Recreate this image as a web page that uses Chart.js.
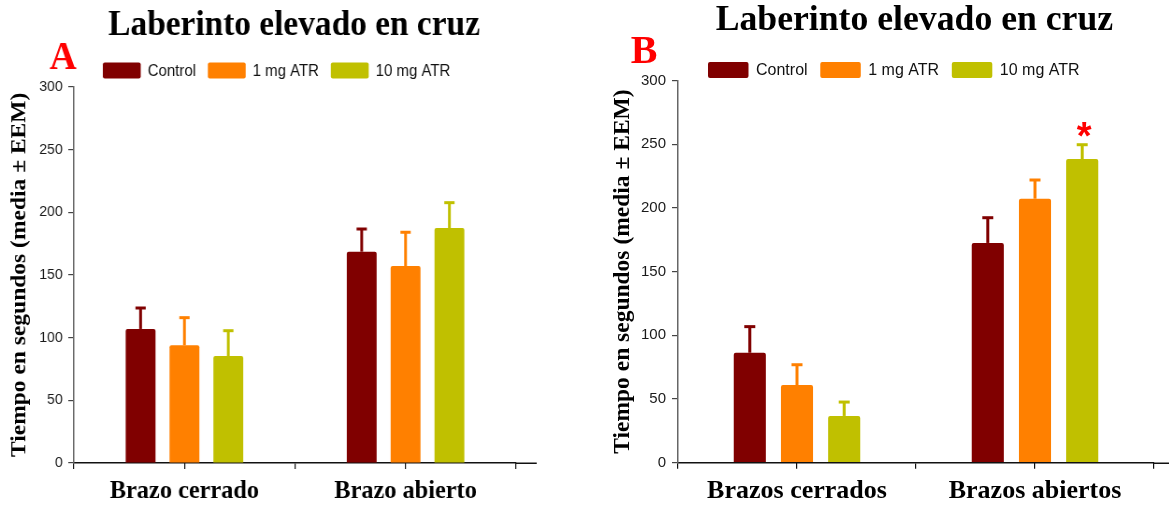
<!DOCTYPE html>
<html><head><meta charset="utf-8">
<script src="https://cdn.jsdelivr.net/npm/chart.js@4"></script>
<style>
html,body{margin:0;padding:0;background:#fff;width:1169px;height:505px;overflow:hidden}
#wrapA{position:absolute;left:0;top:0;width:641px;height:505px;transform:scaleX(0.935);transform-origin:0 0}
#wrapB{position:absolute;left:600px;top:0;width:569px;height:505px}
canvas{display:block}
</style></head><body>
<div id="wrapA"><canvas id="cA" width="641" height="505"></canvas></div>
<div id="wrapB"><canvas id="cB" width="569" height="505"></canvas></div>
<script>
// ---- data ----
const seriesNames = ['Control', '1 mg ATR', '10 mg ATR'];
const seriesColors = ['#800000', '#FF8000', '#C0C000'];
const chartTitle = 'Laberinto elevado en cruz';
const yTitle = 'Tiempo en segundos (media ± EEM)';
const yTicks = [0, 50, 100, 150, 200, 250, 300];

const categoriesA = ['Brazo cerrado', 'Brazo abierto'];
const controlA = [106.9, 168.5];
const atr1A = [93.8, 157.1];
const atr10A = [85.3, 187.4];
const controlSemA = [16.7, 18.1];
const atr1SemA = [22.1, 26.9];
const atr10SemA = [20.2, 20.2];

const categoriesB = ['Brazos cerrados', 'Brazos abiertos'];
const controlB = [86.3, 172.5];
const atr1B = [61.0, 207.2];
const atr10B = [36.7, 238.4];
const controlSemB = [20.5, 19.8];
const atr1SemB = [15.9, 14.7];
const atr10SemB = [10.9, 11.2];
const atr10MarksB = ['', '*'];

// ---- helpers ----
const SERIF = "'Liberation Serif','Times New Roman',serif";
const SANS = "'Liberation Sans',Arial,sans-serif";

function rrect(ctx, x, y, w, h, r) {
  ctx.beginPath();
  ctx.moveTo(x + r, y); ctx.lineTo(x + w - r, y); ctx.quadraticCurveTo(x + w, y, x + w, y + r);
  ctx.lineTo(x + w, y + h - r); ctx.quadraticCurveTo(x + w, y + h, x + w - r, y + h);
  ctx.lineTo(x + r, y + h); ctx.quadraticCurveTo(x, y + h, x, y + h - r);
  ctx.lineTo(x, y + r); ctx.quadraticCurveTo(x, y, x + r, y); ctx.closePath();
}

const errorBars = {
  id: 'errorBars',
  afterDatasetsDraw(chart, args, o) {
    const ctx = chart.ctx, ys = chart.scales.y;
    chart.data.datasets.forEach((ds, i) => {
      const meta = chart.getDatasetMeta(i);
      meta.data.forEach((bar, j) => {
        const top = ys.getPixelForValue(ds.data[j] + ds.sem[j]);
        ctx.save();
        ctx.strokeStyle = ds.backgroundColor;
        ctx.lineWidth = o.lineWidth;
        ctx.beginPath(); ctx.moveTo(bar.x, bar.y); ctx.lineTo(bar.x, top); ctx.stroke();
        ctx.lineWidth = o.capThickness;
        ctx.beginPath(); ctx.moveTo(bar.x - o.capHalf, top); ctx.lineTo(bar.x + o.capHalf, top); ctx.stroke();
        if (ds.marks && ds.marks[j]) {
          ctx.fillStyle = '#FF0000';
          ctx.font = 'bold 38px ' + SANS;
          ctx.textAlign = 'center'; ctx.textBaseline = 'alphabetic';
          ctx.fillText(ds.marks[j], bar.x + 2, top + o.markDy);
        }
        ctx.restore();
      });
    });
  }
};

const deco = {
  id: 'deco',
  afterDraw(chart, args, o) {
    const ctx = chart.ctx, ca = chart.chartArea;
    ctx.save();
    ctx.strokeStyle = '#111'; ctx.lineWidth = 1.5;
    const yb = Math.round(ca.bottom) + 0.25;
    ctx.beginPath(); ctx.moveTo(ca.right - 1, yb); ctx.lineTo(ca.right + o.axisExtend, yb); ctx.stroke();
    ctx.fillStyle = '#000';
    ctx.font = 'bold ' + o.titleSize + 'px ' + SERIF;
    ctx.textAlign = 'center'; ctx.textBaseline = 'alphabetic';
    ctx.fillText(chartTitle, (ca.left + ca.right) / 2 + o.titleDx, o.titleY);
    ctx.fillStyle = '#FF0000';
    ctx.font = 'bold ' + o.letterSize + 'px ' + SERIF;
    ctx.fillText(o.letter, o.letterX, o.letterY);
    let x = o.legendX;
    ctx.font = o.legendSize + 'px ' + SANS;
    ctx.textAlign = 'left'; ctx.textBaseline = 'middle';
    chart.data.datasets.forEach(ds => {
      ctx.fillStyle = ds.backgroundColor;
      rrect(ctx, x, o.legendY, o.boxW, o.boxH, 2); ctx.fill();
      x += o.boxW + o.boxGap;
      ctx.fillStyle = '#111';
      ctx.fillText(ds.label, x, o.legendY + o.boxH / 2 + 1);
      x += ctx.measureText(ds.label).width + o.itemGap;
    });
    ctx.restore();
  }
};

function makeChart(id, labels, sets, cfg) {
  return new Chart(document.getElementById(id), {
    type: 'bar',
    data: {
      labels: labels,
      datasets: sets.map((s, i) => ({
        label: seriesNames[i], data: s.data, sem: s.sem, marks: s.marks,
        backgroundColor: seriesColors[i], borderWidth: 0,
        borderRadius: { topLeft: 2, topRight: 2, bottomLeft: 0, bottomRight: 0 }, borderSkipped: 'bottom',
        barPercentage: 0.68, categoryPercentage: 0.595, xAxisID: 'x', yAxisID: 'y'
      }))
    },
    options: {
      responsive: false, animation: false, devicePixelRatio: 1,
      layout: { padding: { left: 0, right: cfg.padRight, top: cfg.padTop, bottom: 0 } },
      plugins: {
        legend: { display: false }, title: { display: false }, tooltip: { enabled: false },
        errorBars: { lineWidth: 3, capThickness: 3, capHalf: 5.5, markDy: 4 },
        deco: cfg.deco
      },
      scales: {
        x: {
          type: 'category', offset: true, weight: 1, position: 'bottom',
          grid: { offset: true, drawOnChartArea: false, drawTicks: true, tickLength: 6, tickColor: '#111', lineWidth: 1.2 },
          border: { display: true, color: '#111', width: 1.5 },
          ticks: { color: '#000', font: { family: SERIF, weight: 'bold', size: 26 }, padding: 7, maxRotation: 0, autoSkip: false },
          afterFit: s => { s.height = cfg.xHeight; s.paddingLeft = 0; s.paddingRight = 0; }
        },
        x2: {
          type: 'category', offset: true, weight: 0, position: 'bottom',
          grid: { offset: false, drawOnChartArea: false, drawTicks: true, tickLength: 6, tickColor: '#111', lineWidth: 1.2 },
          border: { display: false },
          ticks: { display: false },
          afterFit: s => { s.height = 0; s.paddingLeft = 0; s.paddingRight = 0; }
        },
        y: {
          min: yTicks[0], max: yTicks[yTicks.length - 1],
          ticks: { stepSize: yTicks[1] - yTicks[0], color: '#1a1a1a', font: { family: SANS, size: 15 }, padding: 6 },
          grid: { drawOnChartArea: false, tickLength: 6, tickColor: '#444', lineWidth: 1.2 },
          border: { color: '#666', width: 1.5 },
          title: { display: true, text: yTitle, color: '#000', font: { family: SERIF, weight: 'bold', size: 23.5 }, padding: { top: cfg.yTitlePad, bottom: 0 } },
          afterFit: s => { s.width = cfg.yWidth; s.paddingTop = 0; s.paddingBottom = 0; }
        }
      }
    },
    plugins: [errorBars, deco]
  });
}

makeChart('cA', categoriesA, [
  { data: controlA, sem: controlSemA },
  { data: atr1A, sem: atr1SemA },
  { data: atr10A, sem: atr10SemA }
], {
  padRight: 89, padTop: 86.8, xHeight: 42, yWidth: 79, yTitlePad: 7,
  deco: { axisExtend: 22, titleSize: 35.7, titleY: 35, titleDx: -1, letter: 'A', letterSize: 40, letterX: 67.4, letterY: 69,
          legendX: 110, legendY: 62.5, legendSize: 16, boxW: 40.5, boxH: 16, boxGap: 7.5, itemGap: 12.7 }
});

makeChart('cB', categoriesB, [
  { data: controlB, sem: controlSemB },
  { data: atr1B, sem: atr1SemB },
  { data: atr10B, sem: atr10SemB, marks: atr10MarksB }
], {
  padRight: 15, padTop: 80.5, xHeight: 42.3, yWidth: 78, yTitlePad: 9,
  deco: { axisExtend: 22, titleSize: 35.7, titleY: 30, titleDx: -1.6, letter: 'B', letterSize: 40, letterX: 44, letterY: 62.7,
          legendX: 108, legendY: 62, legendSize: 16, boxW: 40.5, boxH: 16, boxGap: 7.5, itemGap: 12.7 }
});
</script>
</body></html>
